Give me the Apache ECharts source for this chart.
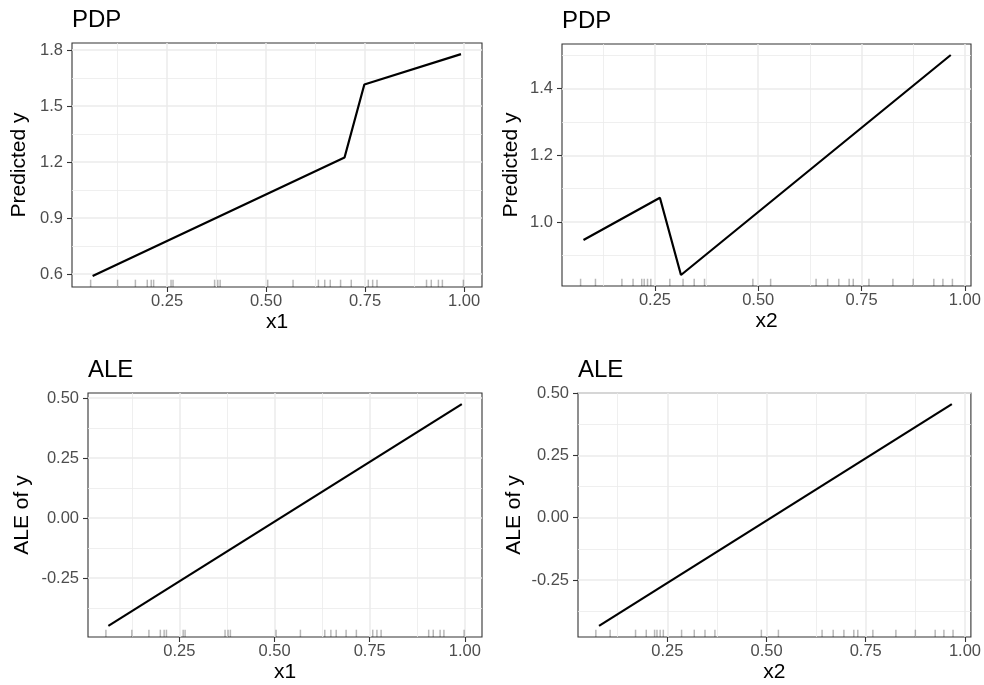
<!DOCTYPE html>
<html>
<head>
<meta charset="utf-8">
<script src="https://cdn.jsdelivr.net/npm/echarts@6/dist/echarts.min.js"></script>
<style>
  html, body { margin: 0; background: #fff; }
  #chart { width: 984px; height: 685px; }
</style>
</head>
<body>
<div id="chart"></div>
<script>
// rug positions
var rugX1 = [0.057, 0.125, 0.17, 0.20, 0.21, 0.216, 0.26, 0.265, 0.37, 0.378, 0.384, 0.504, 0.568,
             0.632, 0.648, 0.662, 0.688, 0.715, 0.758, 0.769, 0.78, 0.905, 0.917, 0.935, 0.945, 0.998];
var rugX2 = [0.07, 0.106, 0.17, 0.197, 0.218, 0.224, 0.232, 0.24, 0.286, 0.318, 0.345, 0.37, 0.487,
             0.53, 0.64, 0.668, 0.695, 0.72, 0.73, 0.768, 0.826, 0.875, 0.925, 0.947, 0.97];

// curves: [x, y]
var pdpX1 = [[0.062, 0.59], [0.698, 1.225], [0.748, 1.616], [0.992, 1.779]];
var pdpX2 = [[0.077, 0.946], [0.262, 1.073], [0.313, 0.841], [0.966, 1.501]];
var aleX1 = [[0.0635, -0.449], [0.992, 0.475]];
var aleX2 = [[0.078, -0.434], [0.967, 0.456]];

// tick labels / gridlines
var xTicks = [0.25, 0.50, 0.75, 1.00];
var xMinor = [0.125, 0.375, 0.625, 0.875];
var pdp1YTicks = [0.6, 0.9, 1.2, 1.5, 1.8];
var pdp1YMinor = [0.75, 1.05, 1.35, 1.65];
var pdp2YTicks = [1.0, 1.2, 1.4];
var pdp2YMinor = [0.9, 1.1, 1.3, 1.5];
var aleYTicks = [-0.25, 0.00, 0.25, 0.50];
var aleYMinor = [-0.375, -0.125, 0.125, 0.375];

var FONT = '"Liberation Sans", Arial, sans-serif';

var panels = [
  { title: 'PDP', xName: 'x1', yName: 'Predicted y', line: pdpX1, rug: rugX1,
    yTicks: pdp1YTicks, yMinor: pdp1YMinor, yDigits: 1, yGap: 42,
    box: { left: 72, top: 43, width: 410, height: 244 } },
  { title: 'PDP', xName: 'x2', yName: 'Predicted y', line: pdpX2, rug: rugX2,
    yTicks: pdp2YTicks, yMinor: pdp2YMinor, yDigits: 1, yGap: 40,
    box: { left: 562, top: 44, width: 409, height: 242 } },
  { title: 'ALE', xName: 'x1', yName: 'ALE of y', line: aleX1, rug: rugX1,
    yTicks: aleYTicks, yMinor: aleYMinor, yDigits: 2, yGap: 55,
    box: { left: 88, top: 393, width: 394, height: 244 } },
  { title: 'ALE', xName: 'x2', yName: 'ALE of y', line: aleX2, rug: rugX2,
    yTicks: aleYTicks, yMinor: aleYMinor, yDigits: 2, yGap: 53,
    box: { left: 578, top: 393, width: 393, height: 244 } }
];

// ggplot-style 5% expansion of the data range
function expand(vals) {
  var lo = Math.min.apply(null, vals), hi = Math.max.apply(null, vals);
  var pad = (hi - lo) * 0.05;
  return [lo - pad, hi + pad];
}

var option = { animation: false, backgroundColor: '#fff',
  title: [], grid: [], xAxis: [], yAxis: [], series: [] };

function major(ticks, digits, margin) {
  return {
    axisLine: { show: false, onZero: false },
    axisTick: { show: true, length: 5, customValues: ticks, lineStyle: { color: '#333', width: 1.1 } },
    axisLabel: { customValues: ticks, color: '#4d4d4d', fontSize: 16.5, fontFamily: FONT, margin: margin,
                 formatter: function (v) { return v.toFixed(digits); } },
    splitLine: { show: true, lineStyle: { color: '#ebebeb', width: 1.5 } }
  };
}
function minor(ticks) {
  return {
    axisLine: { show: false, onZero: false },
    axisTick: { show: false, customValues: ticks },
    axisLabel: { show: false },
    splitLine: { show: true, lineStyle: { color: '#ebebeb', width: 0.8 } }
  };
}

panels.forEach(function (p, i) {
  var xr = expand(p.rug.concat(p.line.map(function (d) { return d[0]; })));
  var yr = expand(p.line.map(function (d) { return d[1]; }));

  option.title.push({
    text: p.title, left: p.box.left, top: p.box.top - 35, padding: 0,
    textStyle: { fontSize: 24, fontWeight: 'normal', color: '#000', fontFamily: FONT }
  });
  option.grid.push({
    left: p.box.left, top: p.box.top, width: p.box.width, height: p.box.height,
    show: true, borderColor: '#333', borderWidth: 1.1, backgroundColor: '#fff'
  });

  option.xAxis.push(Object.assign({ type: 'value', gridIndex: i, min: xr[0], max: xr[1], position: 'bottom',
    name: p.xName, nameLocation: 'middle', nameGap: 25,
    nameTextStyle: { color: '#000', fontSize: 21, fontFamily: FONT } }, major(xTicks, 2, 6)));
  option.xAxis.push(Object.assign({ type: 'value', gridIndex: i, min: xr[0], max: xr[1] }, minor(xMinor)));

  option.yAxis.push(Object.assign({ type: 'value', gridIndex: i, min: yr[0], max: yr[1], position: 'left',
    name: p.yName, nameLocation: 'middle', nameGap: p.yGap,
    nameTextStyle: { color: '#000', fontSize: 21, fontFamily: FONT } }, major(p.yTicks, p.yDigits, 9)));
  option.yAxis.push(Object.assign({ type: 'value', gridIndex: i, min: yr[0], max: yr[1] }, minor(p.yMinor)));

  // rug along the bottom of the panel
  option.series.push({
    type: 'custom', xAxisIndex: 2 * i, yAxisIndex: 2 * i, z: 3,
    data: p.rug.map(function (v) { return [v]; }),
    renderItem: function (params, api) {
      var pt = api.coord([api.value(0), yr[0]]);
      var len = params.coordSys.height * 0.03;
      return { type: 'line', shape: { x1: pt[0], y1: pt[1], x2: pt[0], y2: pt[1] - len },
               style: { stroke: 'rgba(0,0,0,0.28)', lineWidth: 1.5 } };
    }
  });

  option.series.push({
    type: 'line', xAxisIndex: 2 * i, yAxisIndex: 2 * i, z: 4,
    data: p.line, showSymbol: false, silent: true,
    lineStyle: { color: '#000', width: 2.2 }
  });
});

var chart = echarts.init(document.getElementById('chart'), null, { renderer: 'canvas' });
chart.setOption(option);
</script>
</body>
</html>
